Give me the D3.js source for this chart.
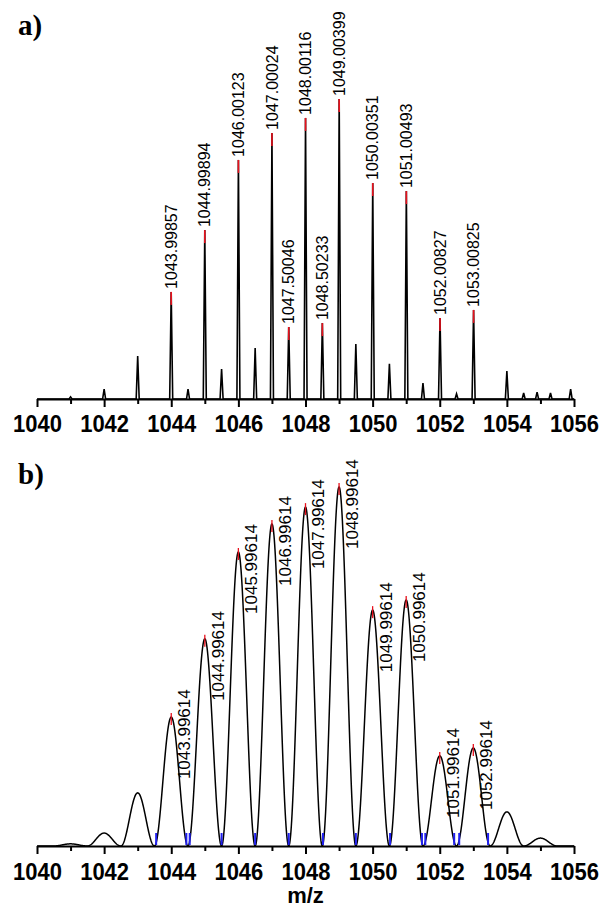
<!DOCTYPE html>
<html>
<head>
<meta charset="utf-8">
<script src="https://cdn.jsdelivr.net/npm/d3@7"></script>
<style>
  body { margin: 0; background: #fff; }
  svg { display: block; }
</style>
</head>
<body>
<svg width="605" height="909"></svg>
<script>
// ticks on the m/z axis
const MAJOR_TICKS = [1040, 1042, 1044, 1046, 1048, 1050, 1052, 1054, 1056];
const MINOR_TICKS = [1041, 1043, 1045, 1047, 1049, 1051, 1053, 1055];

// a) measured spectrum, relative intensity (%)
const exptMz = [1041, 1042, 1043, 1043.99857, 1044.5, 1044.99894, 1045.5, 1046.00123, 1046.5,
    1047.00024, 1047.50046, 1048.00116, 1048.50233, 1049.00399, 1049.5, 1050.00351, 1050.5,
    1051.00493, 1051.5, 1052.00827, 1052.5, 1053.00825, 1054, 1054.5, 1054.9, 1055.3, 1055.9];
const exptIntensity = [0.7, 3.3, 14.3, 35.7, 3.3, 56.3, 10, 79.7, 17,
    88.7, 24, 93.7, 25.3, 100, 18.3, 72, 11.7,
    69.3, 5.3, 27, 1.7, 29.7, 9.3, 2, 2.3, 2, 3.3];
const exptLabels = ['1043.99857', '1044.99894', '1046.00123', '1047.00024', '1047.50046', '1048.00116',
    '1048.50233', '1049.00399', '1050.00351', '1051.00493', '1052.00827', '1053.00825'];

// b) simulated isotope pattern
const simMz = [1041, 1042, 1043, 1044, 1045, 1046, 1047, 1048, 1049, 1050, 1051, 1052, 1053, 1054, 1055];
const simIntensity = [0.6, 3.6, 14.8, 35.9, 57.7, 81.9, 89.7, 94.4, 100, 65.7, 68.5, 25.1, 27.3, 9.5, 2.2];
const simLabels = ['1043.99614', '1044.99614', '1045.99614', '1046.99614', '1047.99614',
    '1048.99614', '1049.99614', '1050.99614', '1051.99614', '1052.99614'];
const simValleys = [1043.55, 1044.45, 1044.55, 1045.5, 1046.5, 1047.5, 1048.52, 1049.5,
    1050.52, 1051.47, 1051.57, 1052.43, 1052.58, 1053.44];

const svg = d3.select('svg');
const FONT = "Arial, 'Liberation Sans', sans-serif";

const X_SCALE = d3.scaleLinear().domain([1040, 1056]).range([37, 574]);
const Y_A = d3.scaleLinear().domain([0, 100]).range([399, 99]);
const Y_B = d3.scaleLinear().domain([0, 100]).range([846, 487]);

const nearest = (arr, v) => d3.minIndex(arr, m => Math.abs(m - v));

const drawAxis = (y0, labelDrop, withTitle) => {
    const g = svg.append('g').attr('transform', `translate(0,${y0})`);
    g.append('g')
        .call(d3.axisBottom(X_SCALE).tickValues(MINOR_TICKS).tickSize(5).tickSizeOuter(0).tickFormat(''))
        .call(a => a.select('.domain').remove())
        .selectAll('line').attr('stroke-width', 2);
    const major = g.append('g')
        .call(d3.axisBottom(X_SCALE).tickValues(MAJOR_TICKS).tickSize(8).tickSizeOuter(0).tickFormat(d3.format('d')));
    major.select('.domain').attr('stroke-width', 2);
    major.selectAll('line').attr('stroke-width', 2);
    // labels are a little taller than wide in the original
    major.selectAll('text')
        .attr('y', 0)
        .attr('dy', 0)
        .attr('transform', `translate(0,${labelDrop}) scale(1,1.12)`)
        .style('font-family', FONT)
        .style('font-size', '22px')
        .style('font-weight', 'bold')
        .attr('fill', '#000');
    if (withTitle) {
        svg.append('text')
            .text('m/z')
            .attr('x', (X_SCALE(1040) + X_SCALE(1056)) / 2)
            .attr('y', y0 + 57)
            .style('font-family', FONT)
            .style('font-size', '22px')
            .style('font-weight', 'bold')
            .style('text-anchor', 'middle');
    }
};

// ---- panel a ----
const spikePts = [[1040, 0]];
exptMz.forEach((m, i) => {
    spikePts.push([m - 0.045, 0], [m, exptIntensity[i]], [m + 0.045, 0]);
});
spikePts.push([1056, 0]);

const lineA = d3.line().x(d => X_SCALE(d[0])).y(d => Y_A(d[1]));
svg.append('path')
    .attr('d', lineA(spikePts))
    .attr('fill', 'none')
    .attr('stroke', '#000')
    .attr('stroke-width', 1.6);

exptLabels.forEach(lab => {
    const i = nearest(exptMz, +lab);
    const x = X_SCALE(exptMz[i]);
    const y = Y_A(exptIntensity[i]);
    svg.append('line')
        .attr('x1', x).attr('x2', x)
        .attr('y1', y).attr('y2', y + 13)
        .attr('stroke', '#e8101c')
        .attr('stroke-width', 1.6);
    svg.append('text')
        .text(lab)
        .attr('transform', `translate(${x},${y - 3}) rotate(-90)`)
        .attr('dy', '0.35em')
        .style('font-family', FONT)
        .style('font-size', '16px')
        .style('text-anchor', 'start');
});

drawAxis(399, 33, false);

svg.append('text')
    .text('a)')
    .attr('x', 18).attr('y', 35)
    .style('font-family', "'Times New Roman', 'Liberation Serif', serif")
    .style('font-size', '29px')
    .style('font-weight', 'bold');

// ---- panel b ----
const HALF_WIDTH = 0.5;
const profile = m => d3.sum(simMz, (c, i) => {
    const d = Math.abs(m - c);
    return d < HALF_WIDTH ? simIntensity[i] * Math.cos(Math.PI * d / (2 * HALF_WIDTH)) ** 2 : 0;
});
const profilePts = d3.range(1040, 1056.001, 0.01).map(m => [m, profile(m)]);

const lineB = d3.line().x(d => X_SCALE(d[0])).y(d => Y_B(d[1]));
svg.append('path')
    .attr('d', lineB(profilePts))
    .attr('fill', 'none')
    .attr('stroke', '#000')
    .attr('stroke-width', 1.5);

svg.selectAll('line.valley')
    .data(simValleys)
    .join('line')
    .attr('class', 'valley')
    .attr('x1', d => X_SCALE(d)).attr('x2', d => X_SCALE(d))
    .attr('y1', Y_B(0) - 1).attr('y2', Y_B(0) - 13)
    .attr('stroke', '#2020f0')
    .attr('stroke-width', 2);

simLabels.forEach(lab => {
    const i = nearest(simMz, +lab);
    const x = X_SCALE(simMz[i]);
    const y = Y_B(simIntensity[i]);
    svg.append('line')
        .attr('x1', x).attr('x2', x)
        .attr('y1', y - 4).attr('y2', y + 8)
        .attr('stroke', '#e8101c')
        .attr('stroke-width', 1.3);
    svg.append('text')
        .text(lab)
        .attr('transform', `translate(${x + 13},${y + 62}) rotate(-90)`)
        .attr('dy', '0.35em')
        .style('font-family', FONT)
        .style('font-size', '17px')
        .style('text-anchor', 'start');
});

drawAxis(846, 34, true);

svg.append('text')
    .text('b)')
    .attr('x', 18).attr('y', 484)
    .style('font-family', "'Times New Roman', 'Liberation Serif', serif")
    .style('font-size', '29px')
    .style('font-weight', 'bold');
</script>
</body>
</html>
